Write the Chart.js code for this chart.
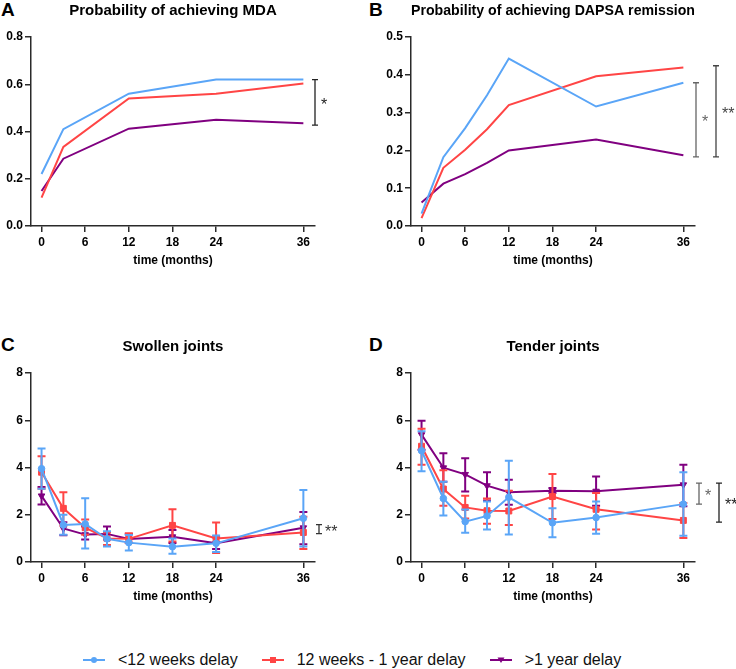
<!DOCTYPE html>
<html>
<head>
<meta charset="utf-8">
<script src="https://cdn.jsdelivr.net/npm/chart.js@4.4.0/dist/chart.umd.min.js"></script>
<style>
    body { margin: 0; background: #fff; width: 736px; height: 669px; position: relative; overflow: hidden;
           font-family: "Liberation Sans", Arial, sans-serif; }
    canvas { position: absolute; }
    .letter { position: absolute; font-weight: bold; font-size: 19px; line-height: 19px; color: #000; }
    #legend { position: absolute; left: 83px; top: 650px; height: 20px; display: flex; align-items: center;
              font-size: 16px; line-height: 20px; color: #111; white-space: nowrap; }
    #legend .item { display: flex; align-items: center; margin-right: 24px; }
    #legend svg { margin-right: 13px; }
</style>
</head>
<body>
<div class="letter" style="left:1px;top:0px">A</div>
<div class="letter" style="left:369px;top:0px">B</div>
<div class="letter" style="left:1px;top:335px">C</div>
<div class="letter" style="left:369px;top:335px">D</div>
<canvas id="chartMDA" width="368" height="270" style="left:0;top:0"></canvas>
<canvas id="chartDAPSA" width="368" height="270" style="left:368px;top:0"></canvas>
<canvas id="chartSwollen" width="368" height="280" style="left:0;top:326px"></canvas>
<canvas id="chartTender" width="368" height="280" style="left:368px;top:326px"></canvas>
<div id="legend"></div>
<script>
// groups
var seriesNames = ["<12 weeks delay", "12 weeks - 1 year delay", ">1 year delay"];
var seriesColors = ["#5aa5f7", "#ff4545", "#800080"];

var timeTicks = [0, 6, 12, 18, 24, 36];
var mdaTicks = [0, 0.2, 0.4, 0.6, 0.8];
var dapsaTicks = [0, 0.1, 0.2, 0.3, 0.4, 0.5];
var jointTicks = [0, 2, 4, 6, 8];

// A - probability of MDA
var mdaMonths = [0, 3, 12, 24, 36];
var mdaEarly = [0.22, 0.41, 0.56, 0.62, 0.62];
var mdaMid = [0.12, 0.335, 0.54, 0.56, 0.603];
var mdaLate = [0.148, 0.285, 0.412, 0.45, 0.435];

// B - probability of DAPSA remission
var dapsaMonths = [0, 3, 6, 9, 12, 24, 36];
var dapsaEarly = [0.033, 0.182, 0.259, 0.346, 0.443, 0.316, 0.379];
var dapsaMid = [0.021, 0.154, 0.202, 0.256, 0.320, 0.396, 0.419];
var dapsaLate = [0.062, 0.112, 0.137, 0.167, 0.200, 0.229, 0.187];

// C/D - joint counts, mean with error limits
var visitMonths = [0, 3, 6, 9, 12, 18, 24, 36];
var swollenEarly = [3.95, 1.57, 1.61, 0.98, 0.82, 0.65, 0.79, 1.85];
var swollenEarlyLo = [3.1, 1.15, 0.57, 0.66, 0.49, 0.35, 0.42, 0.66];
var swollenEarlyHi = [4.8, 2.0, 2.7, 1.3, 1.14, 1.0, 1.12, 3.05];
var swollenMid = [3.8, 2.27, 1.45, 1.0, 0.98, 1.55, 1.0, 1.25];
var swollenMidLo = [3.1, 1.55, 1.15, 0.72, 0.8, 0.87, 0.38, 0.55];
var swollenMidHi = [4.48, 2.95, 1.8, 1.25, 1.22, 2.23, 1.67, 1.92];
var swollenLate = [2.8, 1.42, 1.16, 1.19, 0.97, 1.07, 0.79, 1.45];
var swollenLateLo = [2.43, 1.13, 0.95, 0.95, 0.82, 0.8, 0.55, 0.75];
var swollenLateHi = [3.17, 1.68, 1.5, 1.5, 1.18, 1.35, 1.05, 2.12];

var tenderEarly = [4.71, 2.69, 1.71, 1.95, 2.74, 1.66, 1.88, 2.45];
var tenderEarlyLo = [3.84, 1.97, 1.24, 1.38, 1.16, 1.05, 1.2, 1.11];
var tenderEarlyHi = [5.53, 3.4, 2.22, 2.56, 4.29, 2.28, 2.56, 3.8];
var tenderMid = [4.9, 3.09, 2.31, 2.17, 2.16, 2.77, 2.23, 1.76];
var tenderMidLo = [4.12, 2.38, 1.84, 1.62, 1.57, 1.82, 1.38, 1.02];
var tenderMidHi = [5.64, 3.88, 2.8, 2.69, 3.02, 3.73, 2.92, 2.5];
var tenderLate = [5.39, 3.99, 3.71, 3.23, 2.95, 3.02, 3.0, 3.27];
var tenderLateLo = [4.75, 3.4, 2.98, 2.6, 2.42, 2.92, 2.38, 2.36];
var tenderLateHi = [5.98, 4.6, 4.39, 3.8, 3.48, 3.13, 3.62, 4.12];

// significance brackets: [from, to, label]
var sigMDA = [[0.62, 0.427, "*"]];
var sigDAPSA = [[0.379, 0.183, "*"], [0.424, 0.183, "**"]];
var sigSwollen = [[1.58, 1.2, "**"]];
var sigTender = [[3.34, 2.45, "*"], [3.34, 1.69, "**"]];

var axisColor = "#2a2a2a";
Chart.defaults.font.family = "'Liberation Sans', Arial, sans-serif";
Chart.defaults.color = "#000";

function toPoints(xs, ys) {
    return xs.map(function (x, i) { return { x: x, y: ys[i] }; });
}

// vertical error bars, drawn just under each dataset's line
var errorBars = {
    id: "errorBars",
    beforeDatasetDraw: function (chart, args) {
        var ds = chart.data.datasets[args.index];
        if (!ds.errLow) return;
        var xs = chart.scales.x, ys = chart.scales.y, ctx = chart.ctx;
        ctx.save();
        ctx.strokeStyle = ds.borderColor;
        ctx.lineWidth = 2;
        ds.data.forEach(function (p, i) {
            var px = xs.getPixelForValue(p.x);
            var lo = ys.getPixelForValue(ds.errLow[i]);
            var hi = ys.getPixelForValue(ds.errHigh[i]);
            ctx.beginPath();
            ctx.moveTo(px, lo); ctx.lineTo(px, hi);
            ctx.moveTo(px - 4, lo); ctx.lineTo(px + 4, lo);
            ctx.moveTo(px - 4, hi); ctx.lineTo(px + 4, hi);
            ctx.stroke();
        });
        ctx.restore();
    }
};

// brackets with stars right of the plot
var brackets = {
    id: "brackets",
    afterDraw: function (chart, args, opts) {
        if (!opts.items) return;
        var ys = chart.scales.y, ctx = chart.ctx;
        ctx.save();
        opts.items.forEach(function (b, i) {
            var x = chart.chartArea.right + opts.offsets[i];
            var y1 = ys.getPixelForValue(b[0]), y2 = ys.getPixelForValue(b[1]);
            ctx.strokeStyle = opts.colors[i];
            ctx.fillStyle = opts.colors[i];
            ctx.lineWidth = 1.3;
            ctx.beginPath();
            ctx.moveTo(x, y1); ctx.lineTo(x, y2);
            ctx.moveTo(x - 3, y1); ctx.lineTo(x + 3, y1);
            ctx.moveTo(x - 3, y2); ctx.lineTo(x + 3, y2);
            ctx.stroke();
            ctx.font = "16px 'Liberation Sans', Arial, sans-serif";
            ctx.textAlign = "left";
            ctx.textBaseline = "middle";
            ctx.fillText(b[2], x + 6, (y1 + y2) / 2 + 3);
        });
        ctx.restore();
    }
};

function lineSets(months, a, b, c) {
    return [a, b, c].map(function (vals, i) {
        return {
            label: seriesNames[i],
            data: toPoints(months, vals),
            borderColor: seriesColors[i],
            backgroundColor: seriesColors[i],
            borderWidth: 2,
            pointRadius: 0,
            tension: 0
        };
    });
}

function jointSets(means, lows, highs) {
    var styles = ["circle", "rect", "triangle"];
    var radius = [3.3, 4.2, 3.8];
    return means.map(function (vals, i) {
        return {
            label: seriesNames[i],
            data: toPoints(visitMonths, vals),
            errLow: lows[i],
            errHigh: highs[i],
            borderColor: seriesColors[i],
            backgroundColor: seriesColors[i],
            pointBackgroundColor: seriesColors[i],
            pointBorderColor: seriesColors[i],
            pointBorderWidth: 1,
            pointStyle: styles[i],
            pointRotation: i === 2 ? 180 : 0,
            pointRadius: radius[i],
            borderWidth: 2,
            tension: 0
        };
    });
}

function panelOptions(title, titlePad, yTicks, decimals, yWidth, padRight, sig, offsets, colors) {
    return {
        responsive: false,
        animation: false,
        layout: { padding: { left: 0, right: padRight, top: 0, bottom: 0 } },
        plugins: {
            legend: { display: false },
            tooltip: { enabled: false },
            title: {
                display: true, text: title, fullSize: false, color: "#000",
                font: { size: 15, weight: "bold" }, padding: titlePad
            },
            brackets: { items: sig, offsets: offsets, colors: colors }
        },
        scales: {
            x: {
                type: "linear", min: -1.45, max: 37.6,
                afterBuildTicks: function (s) { s.ticks = timeTicks.map(function (v) { return { value: v }; }); },
                afterFit: function (s) { s.height = 44; },
                grid: { drawOnChartArea: false, color: axisColor, lineWidth: 1.5, tickLength: 6 },
                border: { color: axisColor, width: 1.5 },
                ticks: { color: "#000", font: { size: 12, weight: "bold" }, padding: 3, autoSkip: false, maxRotation: 0 },
                title: { display: true, text: "time (months)", color: "#000",
                         font: { size: 12, weight: "bold" }, padding: { top: 0, bottom: 2.5 } }
            },
            y: {
                min: 0, max: yTicks[yTicks.length - 1],
                afterBuildTicks: function (s) { s.ticks = yTicks.map(function (v) { return { value: v }; }); },
                afterFit: function (s) { s.width = yWidth; },
                grid: { drawOnChartArea: false, color: axisColor, lineWidth: 1.5, tickLength: 6 },
                border: { color: axisColor, width: 1.5 },
                ticks: {
                    color: "#000", font: { size: 12, weight: "bold" }, padding: 2,
                    callback: function (v) { return v.toFixed(decimals); }
                }
            }
        }
    };
}

var chartMDA = new Chart(document.getElementById("chartMDA").getContext("2d"), {
    type: "line",
    data: { datasets: lineSets(mdaMonths, mdaEarly, mdaMid, mdaLate) },
    options: panelOptions("Probability of achieving MDA", { top: 2, bottom: 17 }, mdaTicks, 1, 31, 53,
        sigMDA, [0], ["#222"]),
    plugins: [brackets]
});

var chartDAPSA = new Chart(document.getElementById("chartDAPSA").getContext("2d"), {
    type: "line",
    data: { datasets: lineSets(dapsaMonths, dapsaEarly, dapsaMid, dapsaLate) },
    options: panelOptions("Probability of achieving DAPSA remission", { top: 2, bottom: 17 }, dapsaTicks, 1, 43, 41,
        sigDAPSA, [1, 21], ["#666", "#444"]),
    plugins: [brackets]
});

var chartSwollen = new Chart(document.getElementById("chartSwollen").getContext("2d"), {
    type: "line",
    data: {
        datasets: jointSets([swollenEarly, swollenMid, swollenLate],
            [swollenEarlyLo, swollenMidLo, swollenLateLo],
            [swollenEarlyHi, swollenMidHi, swollenLateHi])
    },
    options: panelOptions("Swollen joints", { top: 12, bottom: 17 }, jointTicks, 0, 31, 53,
        sigSwollen, [4], ["#333"]),
    plugins: [errorBars, brackets]
});

var chartTender = new Chart(document.getElementById("chartTender").getContext("2d"), {
    type: "line",
    data: {
        datasets: jointSets([tenderEarly, tenderMid, tenderLate],
            [tenderEarlyLo, tenderMidLo, tenderLateLo],
            [tenderEarlyHi, tenderMidHi, tenderLateHi])
    },
    options: panelOptions("Tender joints", { top: 12, bottom: 17 }, jointTicks, 0, 43, 41,
        sigTender, [4, 24], ["#666", "#222"]),
    plugins: [errorBars, brackets]
});

// legend
var markers = [
    '<circle cx="11" cy="6" r="3" />',
    '<rect x="8" y="3" width="6" height="6" />',
    '<polygon points="7.5,3.5 14.5,3.5 11,9" />'
];
var legendHtml = "";
seriesNames.forEach(function (name, i) {
    legendHtml += '<span class="item"><svg width="22" height="12" fill="' + seriesColors[i] + '">' +
        '<line x1="0" y1="6" x2="22" y2="6" stroke="' + seriesColors[i] + '" stroke-width="2" />' +
        markers[i] + '</svg><span>' + name.replace("<", "&lt;").replace(">", "&gt;") + '</span></span>';
});
document.getElementById("legend").innerHTML = legendHtml;
</script>
</body>
</html>
